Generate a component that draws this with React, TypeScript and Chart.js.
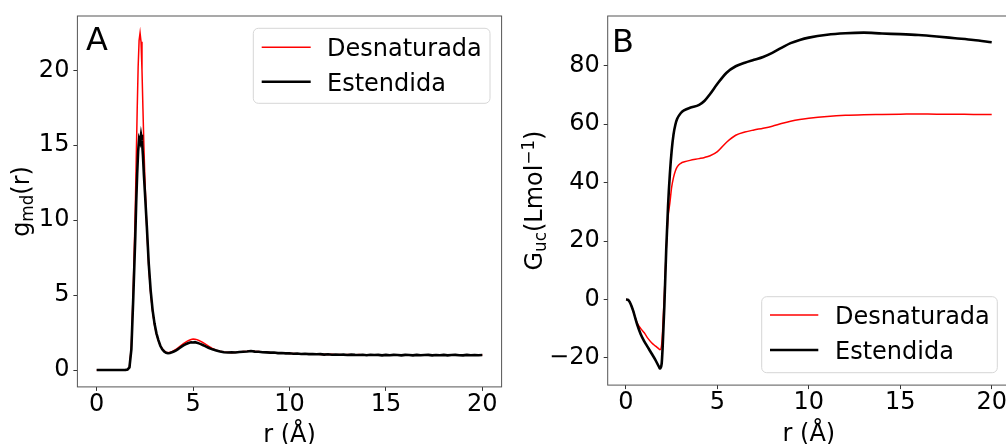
import React, { useEffect, useRef } from 'react';
import { Chart, registerables } from 'chart.js';
Chart.register(...registerables);

const FONT = '"DejaVu Sans", sans-serif';

const seriesNames = ['Desnaturada', 'Estendida'];
const xTicksLabel = 'r (Å)';

// Panel A: radial distribution g_md(r)
const rA = [
  0, 0.5, 1.0, 1.5, 1.6, 1.7, 1.8, 1.9,
  2.0, 2.05, 2.1, 2.15, 2.2, 2.25, 2.3, 2.35, 2.4, 2.45, 2.5,
  2.6, 2.7, 2.8, 2.9, 3.0,
  3.1, 3.2, 3.3, 3.4, 3.5, 3.6, 3.7, 3.8, 3.9, 4.0,
  4.1, 4.2, 4.3, 4.4, 4.5, 4.6, 4.7, 4.8, 4.9, 5.0,
  5.1, 5.2, 5.3, 5.4, 5.5, 5.6, 5.7, 5.8, 5.9, 6.0,
  6.2, 6.4, 6.6, 6.8, 7.0, 7.2, 7.4, 7.6, 7.8, 8.0,
  8.2, 8.4, 8.6, 8.8, 9.0, 9.2, 9.4, 9.6, 9.8, 10.0,
  10.2, 10.4, 10.6, 10.8, 11.0, 11.2, 11.4, 11.6, 11.8, 12.0,
  12.2, 12.4, 12.6, 12.8, 13.0, 13.2, 13.4, 13.6, 13.8, 14.0,
  14.2, 14.4, 14.6, 14.8, 15.0, 15.2, 15.4, 15.6, 15.8, 16.0,
  16.2, 16.4, 16.6, 16.8, 17.0, 17.2, 17.4, 17.6, 17.8, 18.0,
  18.2, 18.4, 18.6, 18.8, 19.0, 19.2, 19.4, 19.6, 19.8, 20.0,
];

const gDesnaturada = [
  0, 0, 0, 0.01, 0.03, 0.2, 1.6, 5.6,
  10.6, 14.0, 17.3, 20.2, 22.0, 22.5, 21.9, 20.0, 17.4, 14.9, 12.8,
  9.4, 6.9, 5.1, 3.9, 3.0,
  2.4, 1.95, 1.62, 1.42, 1.28, 1.19, 1.16, 1.18, 1.23, 1.29,
  1.37, 1.46, 1.56, 1.66, 1.76, 1.85, 1.93, 1.99, 2.04, 2.07,
  2.05, 2.03, 1.97, 1.91, 1.84, 1.76, 1.68, 1.6, 1.52, 1.45,
  1.33, 1.25, 1.2, 1.18, 1.16, 1.19, 1.21, 1.24, 1.26, 1.29,
  1.25, 1.24, 1.2, 1.21, 1.17, 1.15, 1.16, 1.12, 1.13, 1.1,
  1.11, 1.08, 1.09, 1.07, 1.08, 1.05, 1.07, 1.04, 1.06, 1.03,
  1.05, 1.02, 1.04, 1.01, 1.03, 1.02, 1.0, 1.03, 1.01, 1.02,
  0.99, 1.02, 1.0, 1.01, 0.99, 1.02, 1.0, 0.98, 1.01, 1.0,
  0.99, 1.01, 0.99, 1.0, 1.02, 0.99, 1.0, 0.98, 1.01, 1.0,
  0.99, 1.01, 0.98, 1.0, 1.01, 0.99, 1.0, 0.98, 1.01, 1.0,
];

const gEstendida = [
  0, 0, 0, 0.01, 0.03, 0.18, 1.4, 4.9,
  8.8, 11.2, 13.1, 14.6, 15.4, 15.2, 15.7, 15.3, 14.3, 13.0, 11.9,
  9.6, 7.1, 5.3, 4.0, 3.1,
  2.45, 2.0, 1.62, 1.38, 1.24, 1.15, 1.12, 1.14, 1.18, 1.24,
  1.3, 1.38, 1.47, 1.56, 1.64, 1.71, 1.77, 1.82, 1.85, 1.84,
  1.86, 1.82, 1.78, 1.73, 1.67, 1.61, 1.55, 1.49, 1.43, 1.38,
  1.31, 1.24, 1.19, 1.17, 1.18, 1.17, 1.2, 1.22, 1.24, 1.27,
  1.23, 1.22, 1.19, 1.18, 1.16, 1.17, 1.13, 1.14, 1.11, 1.12,
  1.09, 1.1, 1.07, 1.09, 1.06, 1.07, 1.05, 1.06, 1.03, 1.05,
  1.02, 1.04, 1.02, 1.03, 1.0, 1.03, 1.01, 1.0, 1.02, 0.99,
  1.02, 1.0, 1.01, 0.98, 1.01, 0.99, 1.01, 1.0, 0.98, 1.01,
  1.0, 0.98, 1.01, 0.99, 1.0, 1.01, 0.98, 1.0, 0.99, 1.01,
  0.98, 1.0, 1.01, 0.99, 0.98, 1.01, 0.99, 1.0, 0.99, 1.0,
];

// Panel B: G_uc(r)
const rB = [
  0, 0.1, 0.2, 0.3, 0.4, 0.5, 0.6, 0.8, 1.0, 1.2, 1.4, 1.6, 1.8, 1.86, 1.95,
  2.0, 2.1, 2.2, 2.3, 2.4, 2.5, 2.6, 2.7, 2.8, 3.0, 3.2, 3.5, 4.0, 4.3, 4.6,
  5.0, 5.5, 6.0, 6.5, 7.0, 7.5, 8.0, 8.5, 9.0, 9.5, 10, 11, 12, 13, 14, 15,
  16, 17, 18, 19, 20,
];

const gucDesnaturada = [
  0, -0.1, -0.8, -2.2, -4.0, -6.1, -7.9, -9.9, -11.4, -13.3, -14.8, -15.9, -16.9, -17.2, -15.5,
  -11, 2, 17, 28, 33, 38.5, 41.8, 44.0, 45.4, 46.6, 47.1, 47.6, 48.2, 48.6, 49.2,
  50.6, 53.8, 56.2, 57.3, 58.0, 58.6, 59.3, 60.2, 61.0, 61.6, 62.0, 62.6, 63.0, 63.2, 63.3, 63.4,
  63.5, 63.4, 63.4, 63.3, 63.3,
];

const gucEstendida = [
  0, -0.1, -0.8, -2.2, -4.0, -6.2, -8.3, -11.8, -14.3, -16.4, -18.5, -20.6, -23.0, -23.6, -22.0,
  -17, -2, 17, 32, 43, 51, 56.5, 59.8, 61.8, 63.8, 64.8, 65.6, 66.6, 68.0, 70.3,
  73.8, 77.6, 79.8, 81.0, 82.0, 83.0, 84.4, 86.1, 87.7, 88.8, 89.6, 90.6, 91.1, 91.3, 91.0, 90.8,
  90.5, 90.0, 89.4, 88.8, 88.0,
];

const xTickValues = [0, 5, 10, 15, 20];

type Part = { t: string; s?: 'sub' | 'sup' };

interface PanelCfg {
  letter: string;
  letterX: number;
  letterY: number;
  legend: { x: number; y: number; w: number; h: number; lx0: number; lx1: number; ly: number[]; tx: number; ty: number[] };
  xTitleBaseline: number;
  yTitleX: number;
  yTitle: Part[];
}

const FS = 24;

function drawRich(ctx: CanvasRenderingContext2D, parts: Part[], cx: number, baseline: number) {
  const sizes = parts.map((p) => (p.s ? FS * 0.7 : FS));
  const widths = parts.map((p, i) => {
    ctx.font = `${sizes[i]}px ${FONT}`;
    return ctx.measureText(p.t).width;
  });
  const total = widths.reduce((a, b) => a + b, 0);
  let x = cx - total / 2;
  ctx.textAlign = 'left';
  ctx.textBaseline = 'alphabetic';
  parts.forEach((p, i) => {
    ctx.font = `${sizes[i]}px ${FONT}`;
    const dy = p.s === 'sub' ? 4.5 : p.s === 'sup' ? -8 : 0;
    ctx.fillText(p.t, x, baseline + dy);
    x += widths[i];
  });
}

function overlay(cfg: PanelCfg) {
  return {
    id: 'overlay',
    afterDraw(chart: any) {
      const ctx: CanvasRenderingContext2D = chart.ctx;
      const a = chart.chartArea;
      const ds = chart.data.datasets;
      ctx.save();
      // frame
      ctx.strokeStyle = '#555';
      ctx.lineWidth = 1;
      ctx.strokeRect(a.left, a.top, a.right - a.left, a.bottom - a.top);
      // panel letter
      ctx.fillStyle = '#000';
      ctx.font = `32px ${FONT}`;
      ctx.textAlign = 'left';
      ctx.textBaseline = 'alphabetic';
      ctx.fillText(cfg.letter, cfg.letterX, cfg.letterY);
      // legend
      const L = cfg.legend;
      const r = 5;
      ctx.beginPath();
      ctx.moveTo(L.x + r, L.y);
      ctx.lineTo(L.x + L.w - r, L.y);
      ctx.arcTo(L.x + L.w, L.y, L.x + L.w, L.y + r, r);
      ctx.lineTo(L.x + L.w, L.y + L.h - r);
      ctx.arcTo(L.x + L.w, L.y + L.h, L.x + L.w - r, L.y + L.h, r);
      ctx.lineTo(L.x + r, L.y + L.h);
      ctx.arcTo(L.x, L.y + L.h, L.x, L.y + L.h - r, r);
      ctx.lineTo(L.x, L.y + r);
      ctx.arcTo(L.x, L.y, L.x + r, L.y, r);
      ctx.closePath();
      ctx.fillStyle = 'rgba(255,255,255,0.8)';
      ctx.fill();
      ctx.strokeStyle = '#d6d6d6';
      ctx.lineWidth = 1;
      ctx.stroke();
      ds.forEach((d: any, i: number) => {
        ctx.strokeStyle = d.borderColor;
        ctx.lineWidth = d.borderWidth;
        ctx.beginPath();
        ctx.moveTo(L.lx0, L.ly[i]);
        ctx.lineTo(L.lx1, L.ly[i]);
        ctx.stroke();
        ctx.fillStyle = '#000';
        ctx.font = `${FS}px ${FONT}`;
        ctx.textAlign = 'left';
        ctx.textBaseline = 'alphabetic';
        ctx.fillText(d.label, L.tx, L.ty[i]);
      });
      // x title
      ctx.fillStyle = '#000';
      ctx.font = `${FS}px ${FONT}`;
      ctx.textAlign = 'center';
      ctx.fillText(xTicksLabel, (a.left + a.right) / 2, cfg.xTitleBaseline);
      // y title
      ctx.translate(cfg.yTitleX, (a.top + a.bottom) / 2);
      ctx.rotate(-Math.PI / 2);
      drawRich(ctx, cfg.yTitle, 0, 0);
      ctx.restore();
    },
  };
}

function makeChart(
  canvas: HTMLCanvasElement,
  xs: number[],
  ys: number[][],
  yMin: number,
  yMax: number,
  yStep: number,
  yAxisWidth: number,
  xAxisHeight: number,
  padding: { left: number; right: number; top: number; bottom: number },
  smooth: boolean,
  cfg: PanelCfg
) {
  const colors = ['#ff0000', '#000000'];
  const widths = [1.5, 2.6];
  const datasets = ys.map((arr, i) => ({
    label: seriesNames[i],
    data: arr.map((v, j) => ({ x: xs[j], y: v })),
    borderColor: colors[i],
    backgroundColor: colors[i],
    borderWidth: widths[i],
    pointRadius: 0,
    fill: false,
    tension: smooth ? 0.4 : 0,
    cubicInterpolationMode: smooth ? 'monotone' : 'default',
    order: i === 1 ? 0 : 1,
  }));
  const tickFmt = (v: any) => String(v).replace('-', '\u2212');
  return new Chart(canvas, {
    type: 'line',
    data: { datasets } as any,
    plugins: [overlay(cfg)],
    options: {
      animation: false,
      responsive: false,
      devicePixelRatio: 1,
      layout: { padding },
      plugins: { legend: { display: false }, tooltip: { enabled: false } },
      scales: {
        x: {
          type: 'linear',
          min: -1,
          max: 21,
          afterFit: (s: any) => { s.height = xAxisHeight; },
          afterBuildTicks: (s: any) => { s.ticks = xTickValues.map((v) => ({ value: v })); },
          ticks: {
            stepSize: 5,
            includeBounds: false,
            color: '#000',
            padding: 2,
            maxRotation: 0,
            autoSkip: false,
            font: { family: FONT, size: FS, lineHeight: 1 },
            callback: tickFmt,
          },
          grid: { drawOnChartArea: false, drawTicks: true, tickLength: 4, color: '#333' },
          border: { display: false },
        },
        y: {
          type: 'linear',
          min: yMin,
          max: yMax,
          afterFit: (s: any) => { s.width = yAxisWidth; },
          ticks: {
            stepSize: yStep,
            includeBounds: false,
            color: '#000',
            padding: 4,
            autoSkip: false,
            font: { family: FONT, size: FS, lineHeight: 1 },
            callback: tickFmt,
          },
          grid: { drawOnChartArea: false, drawTicks: true, tickLength: 4, color: '#333' },
          border: { display: false },
        },
      },
    } as any,
  });
}

export default function App() {
  const refA = useRef<HTMLCanvasElement>(null);
  const refB = useRef<HTMLCanvasElement>(null);

  useEffect(() => {
    const cfgA: PanelCfg = {
      letter: 'A',
      letterX: 86,
      letterY: 50,
      legend: { x: 253.3, y: 28.3, w: 236.7, h: 75, lx0: 261.7, lx1: 310.7, ly: [47.3, 81.7], tx: 327, ty: [56, 90.5] },
      xTitleBaseline: 442,
      yTitleX: 28.5,
      yTitle: [{ t: 'g' }, { t: 'md', s: 'sub' }, { t: '(r)' }],
    };
    const cfgB: PanelCfg = {
      letter: 'B',
      letterX: 107,
      letterY: 52,
      legend: { x: 256.7, y: 296.7, w: 235.6, h: 76, lx0: 265, lx1: 313.3, ly: [315, 350], tx: 330, ty: [323.7, 358.7] },
      xTitleBaseline: 441,
      yTitleX: 36.5,
      yTitle: [{ t: 'G' }, { t: 'uc', s: 'sub' }, { t: '(Lmol' }, { t: '\u22121', s: 'sup' }, { t: ')' }],
    };
    const a = makeChart(refA.current!, rA, [gDesnaturada, gEstendida], -1.125, 23.625, 5, 77.4, 57.1,
      { left: 0, right: 3.4, top: 16, bottom: 0 }, false, cfgA);
    const b = makeChart(refB.current!, rB, [gucDesnaturada, gucEstendida], -29.3, 97, 20, 102.7, 58.9,
      { left: 0, right: 5, top: 14.3, bottom: 0 }, true, cfgB);
    return () => { a.destroy(); b.destroy(); };
  }, []);

  return (
    <div style={{ position: 'fixed', left: 0, top: 0, width: 1006, height: 444, overflow: 'hidden', background: '#fff' }}>
      <canvas ref={refA} width={505} height={444} style={{ position: 'absolute', left: 0, top: 0, width: 505, height: 444 }} />
      <canvas ref={refB} width={510} height={444} style={{ position: 'absolute', left: 505, top: 0, width: 510, height: 444 }} />
    </div>
  );
}
